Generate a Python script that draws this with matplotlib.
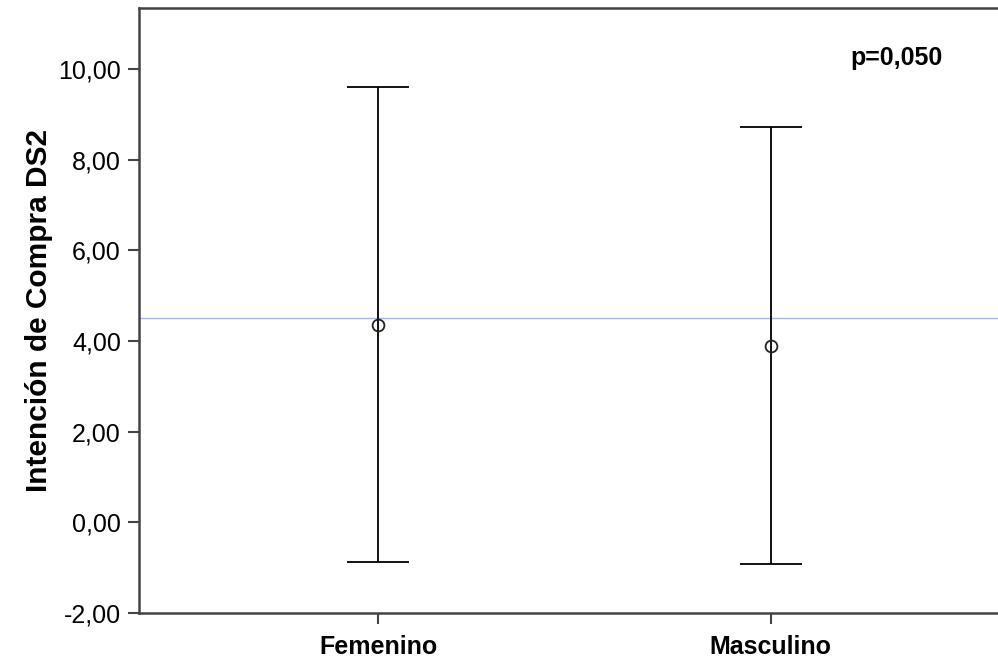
import matplotlib
matplotlib.use('Agg')
import matplotlib.pyplot as plt
import numpy as np

plt.rcParams['font.family'] = ['Liberation Sans', 'DejaVu Sans']

groups = ['Femenino', 'Masculino']
means = [4.35, 3.89]
upper = [9.60, 8.72]
lower = [-0.87, -0.92]
ref_line = 4.51
p_text = 'p=0,050'
yticks = [-2, 0, 2, 4, 6, 8, 10]
ytick_labels = ['-2,00', '0,00', '2,00', '4,00', '6,00', '8,00', '10,00']

fig = plt.figure(figsize=(9.98, 6.62), dpi=100)
ax = fig.add_axes([139/998, 1 - 613/662, 1 - 139/998, (613 - 8)/662])

x = np.arange(len(groups))
means = np.array(means)
err = [means - np.array(lower), np.array(upper) - means]
ax.axhline(ref_line, color='#a9b6e6', lw=1, zorder=1)
ax.errorbar(x, means, yerr=err, fmt='none', ecolor='black', elinewidth=1.3,
            capsize=22.3, capthick=1.3, zorder=2)
ax.plot(x, means, 'o', mfc='none', mec='#222222', ms=8.5, mew=1.3, zorder=3)

ax.set_xlim(-0.61, 1.58)
ax.set_ylim(-2, 11.35)
ax.set_xticks(x)
ax.set_xticklabels(groups, fontsize=18, fontweight='bold')
ax.set_yticks(yticks)
ax.set_yticklabels(ytick_labels, fontsize=18)
ax.set_ylabel('Intención de Compra DS2', fontsize=21.5, fontweight='bold', labelpad=4)

ax.spines['right'].set_visible(False)
for s in ['left', 'bottom', 'top']:
    ax.spines[s].set_color('#444444')
    ax.spines[s].set_linewidth(1.8)
ax.tick_params(axis='both', direction='out', length=8, width=1.5, color='#444444')
ax.tick_params(axis='y', pad=5)
ax.tick_params(axis='x', pad=8)

ax.text(0.882, 0.918, p_text, transform=ax.transAxes, ha='center', va='center',
        fontsize=18, fontweight='bold')

fig.savefig('out.png', dpi=100)
